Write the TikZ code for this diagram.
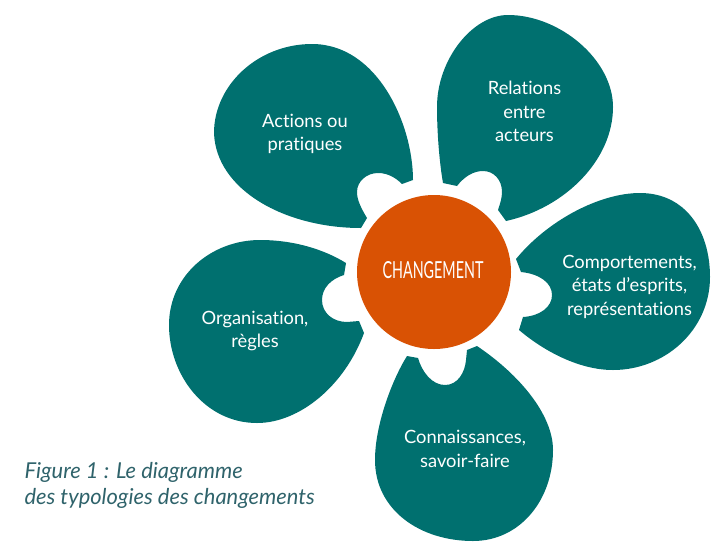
\documentclass[tikz,border=0pt]{standalone}
\usepackage{fontspec}
\setmainfont{Lato}[Ligatures=NoCommon]
\definecolor{petalteal}{HTML}{00706F}
\definecolor{coreorange}{HTML}{D95204}
\definecolor{captionblue}{HTML}{2F636B}
\tikzset{
  petal/.style={fill=petalteal},
  petaltext/.style={text=white,align=center,font=\fontsize{18.3}{23.5}\selectfont},
  caption/.style={text=captionblue,anchor=west,align=left,font=\fontsize{21.9}{26}\selectfont\itshape}
}
\begin{document}
\begin{tikzpicture}[x=1pt,y=-1pt]
   \useasboundingbox (0,0) rectangle (717,544);
   \fill[petal] (413,180) .. controls (413,125) and (378,44) .. (312,44)
     .. controls (258,44) and (214,85) .. (214,133)
     .. controls (216,190) and (285,228) .. (361,228)
     -- (367,218) .. controls (361,208) and (357,200) .. (357,192)
     .. controls (357,181) and (367,173) .. (378,173)
     .. controls (388,173) and (396,178) .. (402,184) -- cycle;
   \fill[petal] (443,183) .. controls (439,160) and (437,130) .. (437,107)
     .. controls (437,60) and (472,15) .. (508,15)
     .. controls (560,15) and (613,60) .. (613,107)
     .. controls (613,160) and (565,208) .. (506,221)
     -- (498,210) .. controls (500,204) and (502,198) .. (502,192)
     .. controls (502,180) and (494,171) .. (483,171)
     .. controls (473,171) and (464,177) .. (457,186) -- cycle;
   \fill[petal] (516,259) .. controls (548,220) and (600,193) .. (640,193)
     .. controls (685,193) and (710,230) .. (710,277)
     .. controls (710,330) and (665,370) .. (613,370)
     .. controls (580,370) and (545,352) .. (519,330)
     -- (523,317) .. controls (540,316) and (552,307) .. (552,295)
     .. controls (552,283) and (540,274) .. (521,272) -- cycle;
   \fill[petal] (477,346) .. controls (520,375) and (553,415) .. (553,450)
     .. controls (553,500) and (520,541) .. (473,541)
     .. controls (420,541) and (375,510) .. (375,460)
     .. controls (375,425) and (392,380) .. (407,356)
     -- (418,358) .. controls (422,372) and (432,385) .. (445,385)
     .. controls (458,385) and (465,372) .. (466,360) -- (467,350) -- cycle;
   \fill[petal] (364,333) .. controls (345,385) and (300,423) .. (257,423)
     .. controls (205,423) and (169,375) .. (169,325)
     .. controls (169,275) and (212,240) .. (260,240)
     .. controls (295,240) and (325,250) .. (346,263)
     -- (344,275) .. controls (331,279) and (322,288) .. (322,300)
     .. controls (322,313) and (333,322) .. (347,322) -- (359,321) -- cycle;
   \fill[coreorange] (434,272) circle (77);
   \node[text=white,xscale=0.61,font=\fontsize{23.5}{24}\selectfont] (core) at (433,270) {CHANGEMENT};
   \node[petaltext] (actions) at (305,134) {Actions ou\\pratiques};
   \node[petaltext] (relations) at (524.5,111.5) {Relations\\entre\\acteurs};
   \node[petaltext] (comportements) at (629.5,286.5) {Comportements,\\états d’esprits,\\représentations};
   \node[petaltext] (organisation) at (255,331) {Organisation,\\règles};
   \node[petaltext] (connaissances) at (465,449) {Connaissances,\\savoir-faire};
   \node[caption] (legend) at (21,485) {Figure 1 : Le diagramme\\des typologies des changements};
  \end{tikzpicture}
\end{document}
